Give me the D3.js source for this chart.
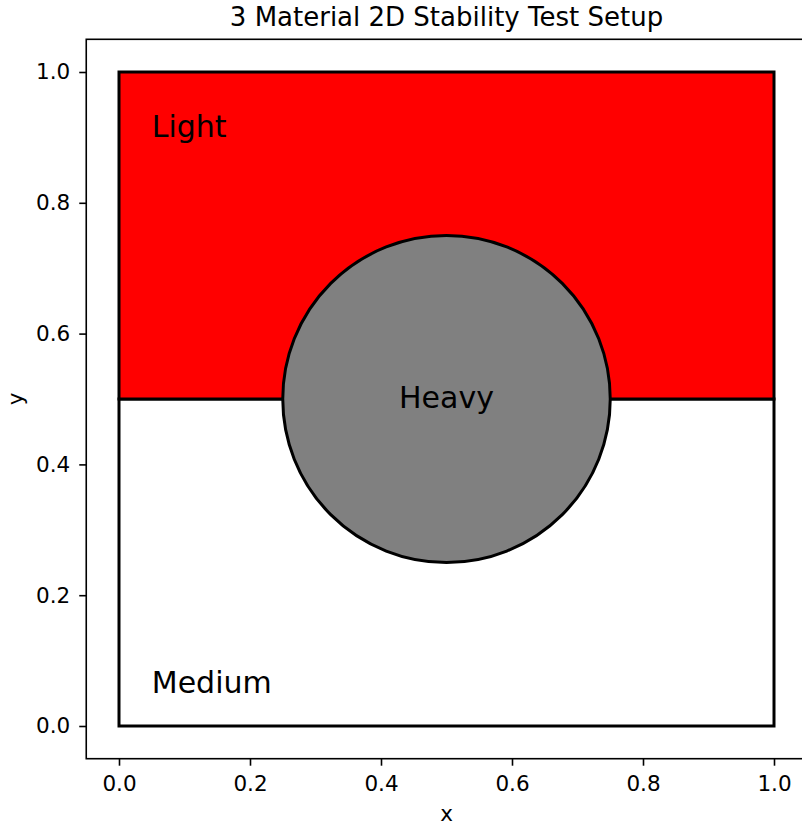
<!DOCTYPE html>
<html>
<head>
<meta charset="utf-8">
<script src="https://cdn.jsdelivr.net/npm/d3@7"></script>
<style>
  body { margin: 0; background: #fff; }
  svg { display: block; font-family: "DejaVu Sans", sans-serif; }
</style>
</head>
<body>
<div id="chart"></div>
<script>
// Chart data
var chartTitle = "3 Material 2D Stability Test Setup";
var regionNames = ["Medium", "Light"];
var regionX0 = [0, 0];
var regionX1 = [1, 1];
var regionY0 = [0, 0.5];
var regionY1 = [0.5, 1];
var heavyCenter = [0.5, 0.5];
var heavyRadius = 0.25;
var labelNames = ["Light", "Medium", "Heavy"];
var labelX = [0.05, 0.05, 0.5];
var labelY = [0.9, 0.05, 0.5];
var xTicks = [0, 0.2, 0.4, 0.6, 0.8, 1.0];
var yTicks = [0, 0.2, 0.4, 0.6, 0.8, 1.0];
var xDomain = [-0.05, 1.05];
var yDomain = [-0.05, 1.05];

var totalWidth = 802, totalHeight = 829;
var margin = { top: 39.3, left: 86.25 };
var width = 720.5, height = 719.4;
var regionFill = { Medium: "#ffffff", Light: "#ff0000" };

var svg = d3.select("#chart").append("svg")
    .attr("width", totalWidth)
    .attr("height", totalHeight);

var g = svg.append("g")
    .attr("transform", "translate(" + margin.left + "," + margin.top + ")");

var x = d3.scaleLinear().domain(xDomain).range([0, width]);
var y = d3.scaleLinear().domain(yDomain).range([height, 0]);

// regions
var regions = regionNames.map(function(n, i) {
    return { name: n, x0: regionX0[i], x1: regionX1[i], y0: regionY0[i], y1: regionY1[i] };
});

g.selectAll(".region")
    .data(regions)
    .enter().append("rect")
    .attr("class", "region")
    .attr("x", function(d) { return x(d.x0); })
    .attr("y", function(d) { return y(d.y1); })
    .attr("width", function(d) { return x(d.x1) - x(d.x0); })
    .attr("height", function(d) { return y(d.y0) - y(d.y1); })
    .attr("fill", function(d) { return regionFill[d.name]; })
    .attr("stroke", "#000")
    .attr("stroke-width", 3)
    .attr("stroke-linejoin", "miter");

// heavy circle
g.append("ellipse")
    .attr("cx", x(heavyCenter[0]))
    .attr("cy", y(heavyCenter[1]))
    .attr("rx", x(heavyRadius) - x(0))
    .attr("ry", y(0) - y(heavyRadius))
    .attr("fill", "#808080")
    .attr("stroke", "#000")
    .attr("stroke-width", 3);

// material labels
g.selectAll(".mat-label")
    .data(labelNames)
    .enter().append("text")
    .attr("class", "mat-label")
    .attr("x", function(d, i) { return x(labelX[i]); })
    .attr("y", function(d, i) { return y(labelY[i]); })
    .attr("dy", function(d) { return d === "Heavy" ? "0.29em" : 0; })
    .attr("text-anchor", function(d) { return d === "Heavy" ? "middle" : "start"; })
    .attr("font-size", "30px")
    .attr("fill", "#000")
    .text(function(d) { return d; });

// axes
var fmt = d3.format(".1f");
var xAxis = d3.axisBottom(x).tickValues(xTicks).tickFormat(fmt).tickSize(7).tickPadding(10);
var yAxis = d3.axisLeft(y).tickValues(yTicks).tickFormat(fmt).tickSize(7).tickPadding(9);

var xAxisGroup = g.append("g")
    .attr("transform", "translate(0," + height + ")")
    .call(xAxis);
var yAxisGroup = g.append("g").call(yAxis);

[xAxisGroup, yAxisGroup].forEach(function(ax) {
    ax.select(".domain").remove();
    ax.selectAll(".tick line").attr("stroke", "#000").attr("stroke-width", 1.6);
    ax.selectAll(".tick text")
        .attr("fill", "#000")
        .attr("font-size", "21.5px")
        .attr("font-family", "DejaVu Sans, sans-serif");
});

// frame
g.append("rect")
    .attr("x", 0)
    .attr("y", 0)
    .attr("width", width)
    .attr("height", height)
    .attr("fill", "none")
    .attr("stroke", "#000")
    .attr("stroke-width", 1.6);

// title and axis labels
svg.append("text")
    .attr("x", margin.left + width / 2)
    .attr("y", 26)
    .attr("text-anchor", "middle")
    .attr("font-size", "26px")
    .text(chartTitle);

svg.append("text")
    .attr("x", margin.left + width / 2)
    .attr("y", 821)
    .attr("text-anchor", "middle")
    .attr("font-size", "21.5px")
    .text("x");

svg.append("text")
    .attr("transform", "translate(23," + (margin.top + y(0.5)) + ") rotate(-90)")
    .attr("text-anchor", "middle")
    .attr("font-size", "21.5px")
    .text("y");
</script>
</body>
</html>
